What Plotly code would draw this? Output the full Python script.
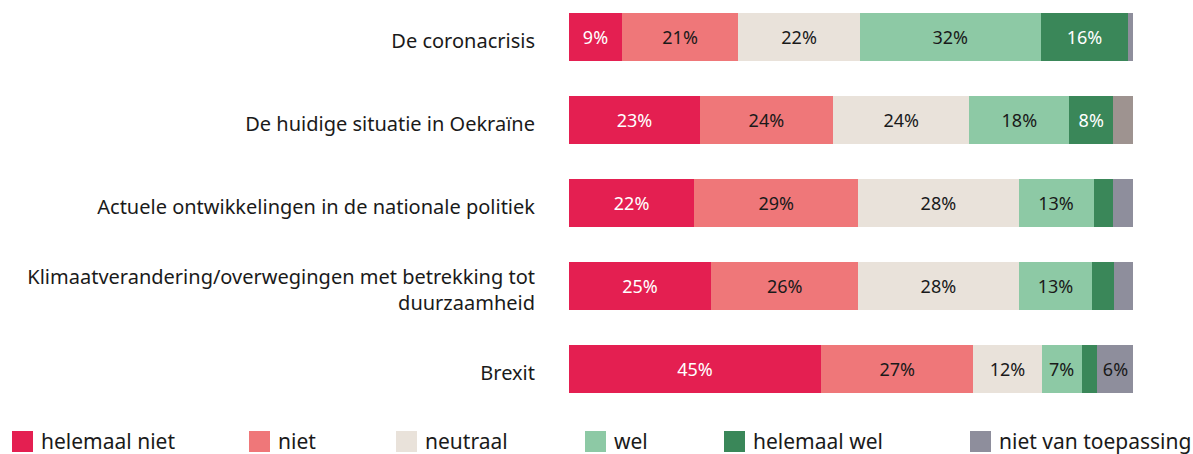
import plotly.graph_objects as go

categories = [
    "De coronacrisis",
    "De huidige situatie in Oekraïne",
    "Actuele ontwikkelingen in de nationale politiek",
    "Klimaatverandering/overwegingen met betrekking tot<br>duurzaamheid",
    "Brexit",
]
series_names = ["helemaal niet", "niet", "neutraal", "wel", "helemaal wel", "niet van toepassing"]
helemaal_niet = [9.4, 23.2, 22.2, 25.2, 44.7]
niet = [20.6, 23.6, 29.1, 26.1, 27.0]
neutraal = [21.6, 24.2, 28.4, 28.4, 12.1]
wel = [32.0, 17.7, 13.3, 13.1, 7.1]
helemaal_wel = [15.6, 7.8, 3.5, 3.9, 2.8]
niet_van_toepassing = [0.8, 3.5, 3.5, 3.4, 6.4]

values = [helemaal_niet, niet, neutraal, wel, helemaal_wel, niet_van_toepassing]
colors = ["#E41F51", "#EF7779", "#E9E2DA", "#8DC9A5", "#3A8759", "#8E8E9C"]
text_colors = ["white", "#1a1a1a", "#1a1a1a", "#1a1a1a", "white", "#1a1a1a"]
# one bar's last segment is drawn in a warmer grey in the reference
nvt_bar_colors = ["#8E8E9C", "#9E9390", "#8E8E9C", "#8E8E9C", "#8E8E9C"]

FONT = "Noto Sans"

fig = go.Figure()
for i, (name, vals) in enumerate(zip(series_names, values)):
    txt = [f"{round(v)}%" if v >= 5 else "" for v in vals]
    mc = nvt_bar_colors if i == 5 else colors[i]
    fig.add_trace(go.Bar(
        y=categories, x=vals, name=name, orientation="h",
        marker=dict(color=mc, line=dict(width=0)),
        text=txt, textposition="inside", insidetextanchor="middle", textangle=0,
        constraintext="none",
        textfont=dict(family=FONT, size=18, color=text_colors[i]),
        hoverinfo="x+name", showlegend=False,
    ))

W, H = 1193, 454
L, R, T, B = 569, 60, 0, 44
pw, ph = W - L - R, H - T - B

def px_x(px):
    return (px - L) / pw

def px_y(py):
    return (H - B - py) / ph

# manual legend
legend_x = [12, 249, 396, 585, 724, 970]
shapes = []
annotations = []
for name, c, lx in zip(series_names, colors, legend_x):
    shapes.append(dict(type="rect", xref="paper", yref="paper",
                       x0=px_x(lx), x1=px_x(lx + 21), y0=px_y(452), y1=px_y(431),
                       fillcolor=c, line=dict(width=0)))
    annotations.append(dict(xref="paper", yref="paper", x=px_x(lx + 27), y=px_y(441),
                            text=name, showarrow=False, xanchor="left", yanchor="middle",
                            font=dict(family=FONT, size=21, color="#1a1a1a")))

fig.update_layout(
    width=W, height=H, barmode="stack", bargap=0.43,
    margin=dict(l=L, r=R, t=T, b=B, pad=0),
    paper_bgcolor="white", plot_bgcolor="white",
    xaxis=dict(range=[0, 100], visible=False, fixedrange=True),
    yaxis=dict(type="category", range=[4.494, -0.446], showgrid=False, zeroline=False,
               showline=False, ticks="", ticklabelstandoff=33, ticklabelshift=-4,
               fixedrange=True,
               tickfont=dict(family=FONT, size=20, color="#1a1a1a")),
    shapes=shapes, annotations=annotations,
)

fig.write_html("out.html", config={"displayModeBar": False},
               post_script="document.body.style.margin='0';document.body.style.overflow='hidden';")
